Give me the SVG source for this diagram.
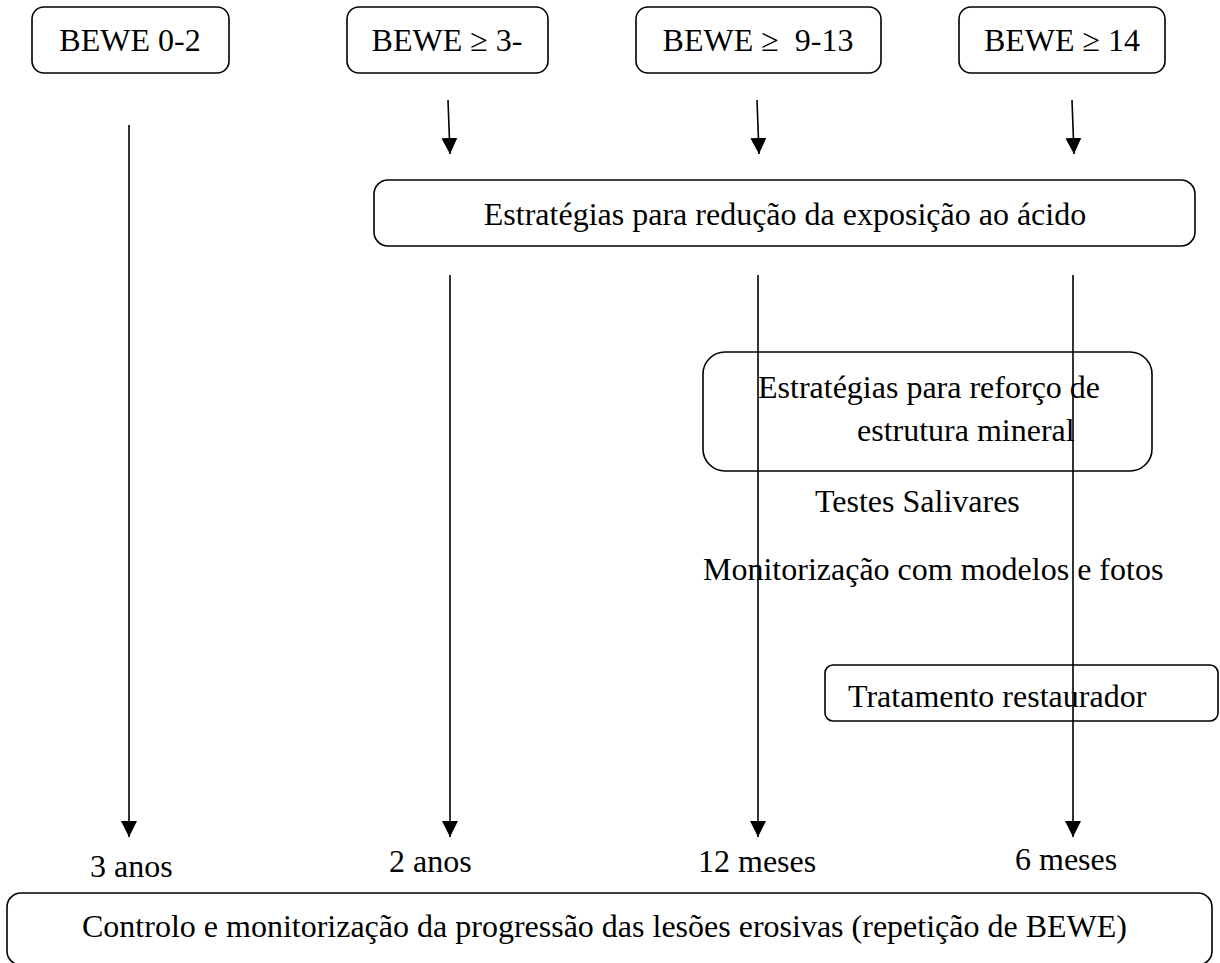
<svg xmlns="http://www.w3.org/2000/svg" width="1220" height="963" viewBox="0 0 1220 963">
<style>
.box{fill:#fff;stroke:#000;stroke-width:1.6}
.t{font-family:"Liberation Serif","Times New Roman",serif;font-size:32px;fill:#000}
.c{text-anchor:middle}
.ln{stroke:#000;stroke-width:1.6;fill:none}
</style>
<defs>
<marker id="ah" markerUnits="userSpaceOnUse" markerWidth="16" markerHeight="16" refX="16" refY="8" orient="auto" viewBox="0 0 16 16">
<path d="M0,0 L16,8 L0,16 Z" fill="#000"/>
</marker>
</defs>
<rect width="1220" height="963" fill="#fff"/>
<g id="n-bewe02"><rect class="box" x="32" y="7" width="197" height="66" rx="12"/><text class="t c" x="130" y="51">BEWE 0-2</text></g>
<g id="n-bewe3"><rect class="box" x="347" y="7" width="201" height="66" rx="12"/><text class="t c" x="447" y="51">BEWE ≥ 3-</text></g>
<g id="n-bewe9"><rect class="box" x="636" y="7" width="245" height="66" rx="12"/><text class="t c" x="758" y="51" xml:space="preserve">BEWE ≥  9-13</text></g>
<g id="n-bewe14"><rect class="box" x="959" y="7" width="206" height="66" rx="12"/><text class="t c" x="1062" y="51">BEWE ≥ 14</text></g>
<g id="n-reducao"><rect class="box" x="374" y="180" width="821" height="66" rx="14"/><text class="t c" x="785" y="225">Estratégias para redução da exposição ao ácido</text></g>
<g id="n-reforco"><rect class="box" x="703" y="352" width="449" height="119" rx="22"/><text class="t" x="758" y="398">Estratégias para reforço de</text><text class="t" x="857" y="441">estrutura mineral</text></g>
<g id="n-testes"><text class="t" x="815" y="512">Testes Salivares</text></g>
<g id="n-monit"><text class="t" x="703" y="580">Monitorização com modelos e fotos</text></g>
<g id="n-trat"><rect class="box" x="825" y="665" width="393" height="56" rx="8"/><text class="t" x="848" y="707">Tratamento restaurador</text></g>
<g id="n-labels">
<text class="t" x="90" y="877">3 anos</text>
<text class="t" x="389" y="872">2 anos</text>
<text class="t" x="698" y="872">12 meses</text>
<text class="t" x="1015" y="870">6 meses</text>
</g>
<g id="n-controlo"><rect class="box" x="7" y="893" width="1205" height="72" rx="14"/><text class="t" x="82" y="937">Controlo e monitorização da progressão das lesões erosivas (repetição de BEWE)</text></g>
<g id="connectors">
<line class="ln" x1="129" y1="125" x2="129" y2="837" marker-end="url(#ah)"/>
<line class="ln" x1="448" y1="100" x2="450" y2="154" marker-end="url(#ah)"/>
<line class="ln" x1="757" y1="100" x2="759" y2="154" marker-end="url(#ah)"/>
<line class="ln" x1="1072" y1="100" x2="1074" y2="154" marker-end="url(#ah)"/>
<line class="ln" x1="450" y1="275" x2="450" y2="837" marker-end="url(#ah)"/>
<line class="ln" x1="758" y1="275" x2="758" y2="837" marker-end="url(#ah)"/>
<line class="ln" x1="1073" y1="275" x2="1073" y2="837" marker-end="url(#ah)"/>
</g>
</svg>
